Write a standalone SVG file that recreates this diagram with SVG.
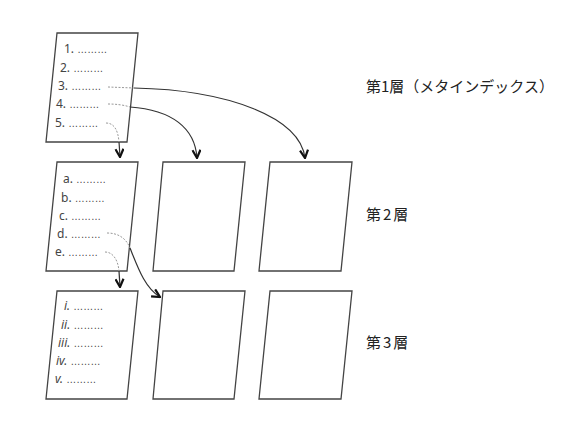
<svg xmlns="http://www.w3.org/2000/svg" width="567" height="427" viewBox="0 0 567 427">
<defs>
<style>
.page{fill:#fff;stroke:#444;stroke-width:1.3;stroke-linejoin:miter}
.item{font-family:"Noto Sans","Liberation Sans",sans-serif;font-size:12px;fill:#444}
.it{font-style:italic}
.dots{font-family:"Liberation Sans",sans-serif;font-size:10px;fill:#444}
.lbl{font-family:"Noto Sans CJK JP","Noto Sans",sans-serif;font-size:15px;fill:#222}
.dash{fill:none;stroke:#999;stroke-width:1;stroke-dasharray:2 1.5}
.conn{fill:none;stroke:#333;stroke-width:1.2}
</style>
<marker id="v" viewBox="0 0 10 10" refX="9" refY="5" markerWidth="10" markerHeight="10" markerUnits="userSpaceOnUse" orient="auto">
<polyline points="1,1 9,5 1,9" fill="none" stroke="#111" stroke-width="2.2"/>
</marker>
</defs>
<rect width="567" height="427" fill="#fff"/>

<g id="page-l1">
<polygon class="page" points="57,33 138,33 127,142 46,142"/>
<text class="item" x="64" y="53">1. <tspan class="dots">………</tspan></text>
<text class="item" x="60" y="72">2. <tspan class="dots">………</tspan></text>
<text class="item" x="58" y="90">3. <tspan class="dots">………</tspan></text>
<text class="item" x="56" y="108">4. <tspan class="dots">………</tspan></text>
<text class="item" x="55" y="127">5. <tspan class="dots">………</tspan></text>
</g>

<g id="page-l2a">
<polygon class="page" points="57,162 138,162 127,271 46,271"/>
<text class="item" x="63" y="183">a. <tspan class="dots">………</tspan></text>
<text class="item" x="61" y="202">b. <tspan class="dots">………</tspan></text>
<text class="item" x="59" y="220">c. <tspan class="dots">………</tspan></text>
<text class="item" x="57" y="238">d. <tspan class="dots">………</tspan></text>
<text class="item" x="55" y="256">e. <tspan class="dots">………</tspan></text>
</g>
<g id="page-l2b"><polygon class="page" points="163,162 245,162 234,271 153,271"/></g>
<g id="page-l2c"><polygon class="page" points="270,162 352,162 341,271 259,271"/></g>

<g id="page-l3a">
<polygon class="page" points="57,291 138,291 127,399 46,399"/>
<text class="item" x="64" y="310"><tspan class="it">i.</tspan> <tspan class="dots">………</tspan></text>
<text class="item" x="61" y="329"><tspan class="it">ii.</tspan> <tspan class="dots">………</tspan></text>
<text class="item" x="58" y="347"><tspan class="it">iii.</tspan> <tspan class="dots">………</tspan></text>
<text class="item" x="56" y="365"><tspan class="it">iv.</tspan> <tspan class="dots">………</tspan></text>
<text class="item" x="55" y="383"><tspan class="it">v.</tspan> <tspan class="dots">………</tspan></text>
</g>
<g id="page-l3b"><polygon class="page" points="163,291 245,291 234,399 153,399"/></g>
<g id="page-l3c"><polygon class="page" points="270,291 352,291 341,399 259,399"/></g>

<g id="connectors">
<path class="dash" d="M108,87 L134,88"/>
<path class="conn" d="M134,88 C230,90 300,118 305,158" marker-end="url(#v)"/>
<path class="dash" d="M108,104 C116,104 124,105 130,107"/>
<path class="conn" d="M130,107 C172,110 195,128 197,158" marker-end="url(#v)"/>
<path class="dash" d="M106,123 C114,123 118,130 119,142"/>
<path class="conn" d="M119,142 L120,157" marker-end="url(#v)"/>
<path class="dash" d="M107,233 C118,233 126,238 130,248"/>
<path class="conn" d="M130,248 C138,268 145,288 160,297" marker-end="url(#v)"/>
<path class="dash" d="M105,252 C113,252 118,260 119,271"/>
<path class="conn" d="M119,271 L120,287" marker-end="url(#v)"/>
</g>

<g id="labels">
<text class="lbl" x="366" y="92">第1層（メタインデックス）</text>
<text class="lbl" x="366" y="220" letter-spacing="2">第2層</text>
<text class="lbl" x="366" y="348" letter-spacing="2">第3層</text>
</g>
</svg>
